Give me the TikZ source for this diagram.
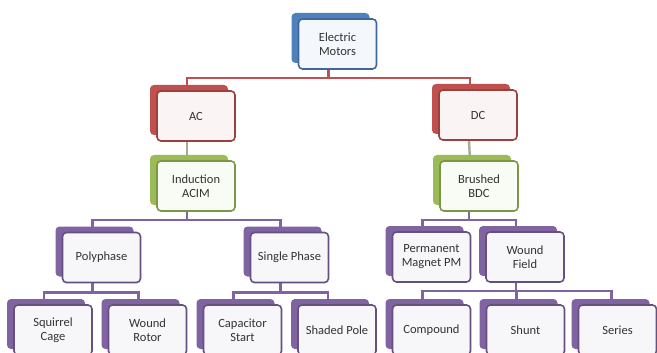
\documentclass[tikz,border=0pt]{standalone}
\usepackage{fontspec}
\setmainfont{Carlito}
\usetikzlibrary{shadows}
\pgfdeclarelayer{bg}\pgfsetlayers{bg,main}
\definecolor{cblue}{HTML}{4F81BD}
\definecolor{cred}{HTML}{C0504D}
\definecolor{cgreen}{HTML}{9BBB59}
\definecolor{cpurple}{HTML}{8064A2}
\definecolor{cgline}{HTML}{A3AD94}
\tikzset{
  motor/.style={draw=#1!80!black, line width=1.6pt, rounded corners=4pt,
    fill=#1!6!white, minimum width=78pt, minimum height=50pt, align=center,
    inner sep=2pt, font=\fontsize{12.5}{14}\selectfont, text=black!80,
    general shadow={fill=#1, shadow xshift=-7pt, shadow yshift=6pt}},
  conn/.style={draw=#1, line width=2.4pt},
}
\begin{document}
\begin{tikzpicture}[x=1pt,y=-1pt]
\useasboundingbox (0,0) rectangle (657,353);
\clip (0,0) rectangle (657,353);
\node[motor=cblue] (em) at (337.5,44) {Electric\\Motors};
\node[motor=cred] (ac) at (196,116) {AC};
\node[motor=cred] (dc) at (478,115) {DC};
\node[motor=cgreen] (ind) at (196,186) {Induction\\ACIM};
\node[motor=cgreen] (bru) at (479,186) {Brushed\\BDC};
\node[motor=cpurple] (poly) at (101.5,257.5) {Polyphase};
\node[motor=cpurple] (sing) at (289.5,257.5) {Single Phase};
\node[motor=cpurple] (pm) at (431.5,257) {Permanent\\Magnet PM};
\node[motor=cpurple] (wf) at (525,257) {Wound\\Field};
\node[motor=cpurple] (sq) at (53,330) {Squirrel\\Cage};
\node[motor=cpurple] (wr) at (147.5,330) {Wound\\Rotor};
\node[motor=cpurple] (cap) at (242.5,330) {Capacitor\\Start};
\node[motor=cpurple] (sh) at (337,330) {Shaded Pole};
\node[motor=cpurple] (com) at (431.5,330) {Compound};
\node[motor=cpurple] (shu) at (525.5,330) {Shunt};
\node[motor=cpurple] (ser) at (617.5,330) {Series};
\begin{pgfonlayer}{bg}
\draw[conn=cred] ([xshift=-9pt]em.south) -- ++(0,8) -| ([xshift=-9pt]ac.north);
\draw[conn=cred] ([xshift=-9pt]em.south) -- ++(0,8) -| ([xshift=-8pt]dc.north);
\draw[conn=cgline] ([xshift=-9pt]ac.south) -- ([xshift=-9pt]ind.north);
\draw[conn=cgline] ([xshift=-9pt]dc.south) -- ([xshift=-9pt]bru.north);
\draw[conn=cpurple] ([xshift=-9pt]ind.south) -- ++(0,8) -| ([xshift=-9pt]poly.north);
\draw[conn=cpurple] ([xshift=-9pt]ind.south) -- ++(0,8) -| ([xshift=-9pt]sing.north);
\draw[conn=cpurple] ([xshift=-10pt]bru.south) -- ++(0,8) -| ([xshift=-9pt]pm.north);
\draw[conn=cpurple] ([xshift=-10pt]bru.south) -- ++(0,8) -| ([xshift=-9pt]wf.north);
\draw[conn=cpurple] ([xshift=-9pt]poly.south) -- ++(0,9) -| ([xshift=-9pt]sq.north);
\draw[conn=cpurple] ([xshift=-9pt]poly.south) -- ++(0,9) -| ([xshift=-9pt]wr.north);
\draw[conn=cpurple] ([xshift=-9pt]sing.south) -- ++(0,9) -| ([xshift=-9pt]cap.north);
\draw[conn=cpurple] ([xshift=-9pt]sing.south) -- ++(0,9) -| ([xshift=-9pt]sh.north);
\draw[conn=cpurple] ([xshift=-9pt]wf.south) -- ++(0,8) -| ([xshift=-9pt]com.north);
\draw[conn=cpurple] ([xshift=-9pt]wf.south) -- ++(0,8) -| ([xshift=-9pt]shu.north);
\draw[conn=cpurple] ([xshift=-9pt]wf.south) -- ++(0,8) -| ([xshift=-6pt]ser.north);
\end{pgfonlayer}
\end{tikzpicture}
\end{document}
